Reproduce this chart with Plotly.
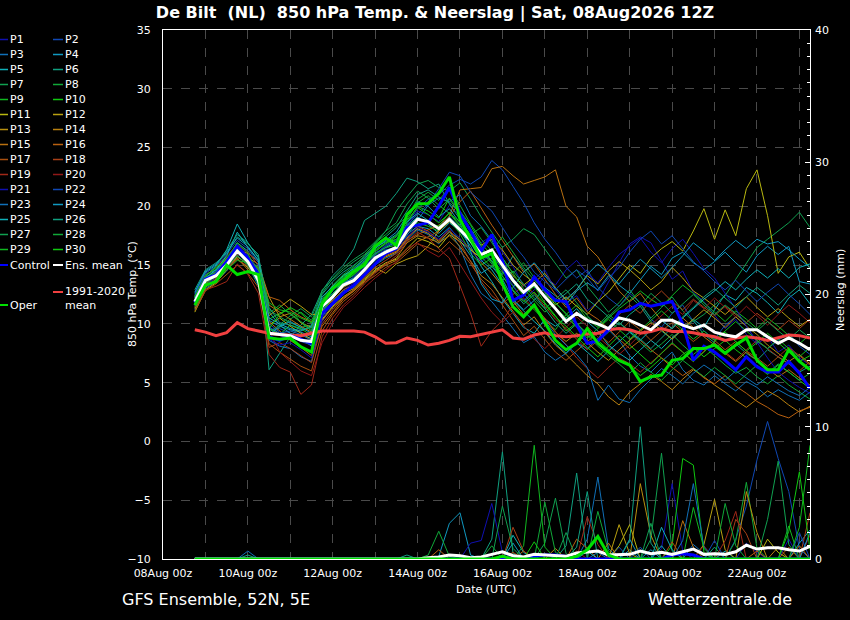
import pandas as pd
import plotly.graph_objects as go

# ---------------- data ----------------
times = pd.date_range("2026-08-08 18:00", periods=59, freq="6h")
x_tick_dates = ["2026-08-08", "2026-08-10", "2026-08-12", "2026-08-14",
                "2026-08-16", "2026-08-18", "2026-08-20", "2026-08-22"]
x_tick_labels = ["08Aug 00z", "10Aug 00z", "12Aug 00z", "14Aug 00z",
                 "16Aug 00z", "18Aug 00z", "20Aug 00z", "22Aug 00z"]
member_names = ["P%d" % k for k in range(1, 31)]
member_colors = ["#1010b0", "#1048b4", "#1070b8", "#1098c0", "#10b0b8",
                 "#10a080", "#10a050", "#10a838", "#10b820", "#10c810",
                 "#b8b810", "#b8a010", "#b89010", "#b88010", "#b87010",
                 "#b86010", "#a85010", "#a84018", "#a02818", "#901818",
                 "#1010b0", "#1048b4", "#1070b8", "#1098c0", "#10b0b8",
                 "#10a080", "#10a050", "#10a838", "#10b820", "#10c810"]

temp_control = [11.8, 13.8, 14.2, 15.3, 16.6, 15.6, 14.2,
                8.9, 8.6, 9.0, 8.7, 8.35,
                10.9, 11.75, 12.6, 13.3, 14.2, 15.15, 16.0, 16.4,
                18.2, 18.4, 18.6, 20.0, 21.6, 19.4, 17.9, 16.2,
                17.6, 15.4, 12.0, 12.45, 14.0, 12.9, 12.0, 11.9, 9.9, 8.35,
                8.55, 9.5, 11.0, 11.2, 11.75, 11.5, 11.7, 11.9, 10.0, 6.9, 8.1,
                7.6, 6.9, 6.1, 7.2, 6.35, 5.9, 5.9, 6.8, 5.8, 4.5]
temp_mean = [11.9, 13.7, 14.1, 15.0, 16.2, 15.3, 13.7,
             9.2, 9.1, 9.0, 8.6, 8.5,
             11.5, 12.3, 13.3, 13.7, 14.6, 15.6, 16.1, 16.5,
             17.9, 18.9, 18.7, 18.1, 18.9, 18.0, 17.1, 15.9,
             16.3, 15.0, 13.7, 12.7, 13.4, 12.3, 11.3, 10.2, 10.9, 10.3,
             10.0, 9.6, 10.5, 10.3, 9.9, 9.5, 10.3, 10.3, 9.9, 9.6, 9.9,
             9.3, 9.05, 8.9, 9.5, 9.5, 8.9, 8.35, 8.8, 8.35, 7.8]
temp_oper = [11.6, 13.3, 13.6, 15.0, 14.2, 14.45, 14.2,
             8.8, 8.7, 8.8, 8.05, 7.6,
             11.7, 13.0, 13.7, 14.45, 15.0, 16.6, 17.3, 16.7,
             19.3, 20.2, 20.25, 21.1, 22.5, 18.9, 17.2, 15.6,
             16.0, 13.45, 11.45, 10.6, 11.6, 10.05, 8.6, 7.8, 8.35, 9.6,
             8.35, 7.6, 6.9, 6.5, 5.1, 5.5, 5.65, 6.9, 7.05, 7.9, 7.9,
             8.2, 7.5, 8.2, 8.8, 6.9, 6.1, 6.1, 7.8, 6.8, 6.1]
temp_clim = [9.5, 9.3, 9.0, 9.25, 10.1, 9.6, 9.4, 9.2, 9.1, 9.05,
             9.0, 9.2, 9.4, 9.4, 9.4, 9.4, 9.3, 8.9, 8.35, 8.4,
             8.8, 8.6, 8.2, 8.35, 8.6, 8.95, 8.9, 9.1, 9.3, 9.5,
             8.8, 8.7, 9.05, 9.25, 9.0, 8.9, 9.0, 9.15, 9.2, 9.5,
             9.6, 9.5, 9.2, 9.35, 9.6, 9.35, 9.35, 9.25, 9.05, 8.9,
             8.6, 8.8, 8.9, 8.8, 8.6, 8.8, 9.05, 9.0, 8.8]

temp_p01 = [11.5, 13.2, 13.9, 15.1, 16.8, 15.9, 14.6, 9.8, 9.0, 8.7, 8.1, 7.6,
            10.2, 11.6, 12.9, 13.5, 14.9, 15.8, 16.4, 16.9, 18.2, 19.6, 19.3, 18.7, 20.1, 19.2, 17.8, 16.9,
            17.5, 16.1, 14.9, 13.2, 13.8, 14.6, 12.9, 11.8, 12.4, 11.1,
            11.9, 13.6, 15.2, 16.8, 17.4, 16.9, 15.3, 13.8, 14.5, 12.7, 11.9,
            10.8, 9.6, 10.4, 9.1, 8.3, 8.9, 7.6, 8.2, 7.1, 6.5]
temp_p02 = [12.0, 13.9, 14.5, 15.4, 16.5, 15.8, 14.1, 9.5, 9.6, 9.2, 9.0, 8.8,
            11.2, 12.1, 13.4, 14.0, 14.8, 15.9, 16.7, 17.2, 18.5, 19.8, 20.6, 21.0, 21.8, 22.3, 21.9, 22.5,
            23.9, 23.1, 21.7, 20.3, 18.6, 17.2, 16.1, 14.8, 13.9, 14.6,
            13.1, 12.2, 11.5, 12.6, 11.8, 10.4, 9.7, 10.9, 11.6, 10.2, 9.4,
            8.7, 9.9, 10.6, 9.8, 8.5, 7.9, 8.6, 9.2, 8.1, 7.4]
temp_p03 = [11.2, 13.0, 13.6, 14.5, 15.8, 15.0, 13.2, 8.6, 8.1, 7.9, 7.2, 6.8,
            10.6, 11.9, 12.8, 13.1, 14.1, 15.0, 15.6, 16.0, 17.1, 18.0, 17.6, 16.8, 17.9, 16.5, 14.2, 12.6,
            11.9, 10.8, 9.6, 8.4, 8.9, 7.6, 6.9, 7.5, 8.4, 7.9,
            8.8, 9.5, 8.6, 7.3, 6.4, 5.9, 6.8, 7.6, 6.1, 5.2, 4.8,
            5.6, 4.9, 4.3, 5.1, 4.6, 3.8, 4.4, 3.9, 3.5, 4.2]
temp_p04 = [12.3, 14.2, 14.6, 15.5, 16.9, 16.2, 14.9, 10.3, 9.8, 9.5, 9.3, 8.9,
            11.8, 12.6, 13.5, 13.9, 14.6, 15.4, 16.2, 16.6, 17.6, 18.3, 18.1, 17.4, 18.2, 17.1, 15.8, 14.3,
            14.9, 13.8, 12.1, 11.2, 12.0, 13.1, 12.4, 11.6, 12.8, 13.5,
            12.9, 14.1, 13.3, 12.6, 13.8, 14.9, 14.2, 15.6, 16.1, 15.2, 14.6,
            15.3, 16.1, 15.2, 14.4, 15.8, 16.6, 15.9, 16.6, 13.6, 13.4]
temp_p05 = [12.6, 14.4, 15.0, 16.3, 18.5, 16.9, 15.6, 11.0, 9.9, 9.2, 8.8, 8.1,
            11.0, 12.4, 13.8, 14.5, 15.3, 16.0, 16.5, 17.0, 18.3, 19.1, 18.5, 17.7, 18.6, 17.9, 16.6, 14.9,
            13.6, 12.1, 10.9, 9.7, 9.2, 10.4, 9.8, 10.5, 11.3, 10.2,
            9.4, 8.2, 7.5, 6.9, 7.8, 8.6, 7.9, 8.8, 9.6, 10.4, 9.7,
            11.2, 12.5, 12.0, 13.1, 12.6, 11.8, 10.9, 12.2, 12.9, 11.7]
temp_p06 = [12.9, 14.6, 15.2, 16.0, 17.4, 16.8, 15.9, 6.1, 7.5, 8.9, 9.9, 10.8,
            12.8, 14.1, 15.0, 16.4, 18.8, 19.4, 20.0, 21.1, 22.4, 22.1, 21.5, 21.9, 20.2, 18.9, 17.5, 16.1,
            15.4, 14.2, 15.8, 14.6, 13.1, 12.5, 11.9, 12.6, 13.4, 12.1,
            11.4, 10.6, 9.9, 10.8, 11.5, 10.2, 9.4, 8.7, 9.5, 10.3, 9.1,
            8.4, 7.6, 8.3, 7.5, 6.9, 7.8, 7.2, 6.6, 5.9, 6.4]
temp_p07 = [11.8, 13.6, 14.3, 15.2, 16.0, 15.5, 14.8, 11.2, 10.6, 10.1, 9.7, 9.9,
            12.9, 13.8, 14.6, 15.3, 15.9, 16.8, 17.9, 19.6, 20.8, 21.9, 22.2, 21.6, 21.3, 22.0, 20.6, 19.1,
            17.8, 16.5, 17.2, 18.1, 17.6, 16.4, 15.1, 13.9, 14.6, 13.2,
            12.1, 11.0, 11.8, 12.9, 11.7, 10.5, 11.4, 12.3, 11.1, 10.2, 10.8,
            11.6, 12.4, 13.8, 15.1, 16.5, 17.2, 17.9, 18.6, 19.5, 18.2]
temp_p08 = [12.2, 14.0, 14.4, 15.6, 16.4, 15.4, 13.3, 9.0, 9.7, 10.4, 11.0, 10.3,
            12.1, 13.3, 14.2, 14.4, 15.3, 16.2, 16.8, 17.4, 18.9, 20.3, 20.9, 20.1, 19.4, 18.3, 17.6, 18.2,
            16.9, 15.6, 14.3, 15.2, 13.9, 12.6, 11.4, 10.5, 9.8, 10.6,
            9.9, 10.8, 10.1, 9.3, 8.4, 7.6, 8.3, 9.1, 8.2, 7.4, 8.1,
            7.3, 6.5, 5.8, 6.3, 5.5, 4.9, 5.6, 4.8, 4.2, 3.6]
temp_p09 = [11.4, 13.4, 14.2, 15.3, 16.1, 15.0, 14.4, 10.4, 10.9, 11.3, 10.1, 9.4,
            11.9, 13.0, 14.0, 14.8, 15.5, 16.6, 17.3, 17.0, 18.0, 18.6, 18.3, 17.9, 18.8, 17.7, 16.0, 15.0,
            15.6, 14.4, 13.1, 12.0, 11.2, 10.3, 9.5, 10.8, 11.6, 10.4,
            9.7, 10.5, 11.3, 12.0, 12.8, 12.1, 11.5, 12.4, 13.3, 12.6, 11.8,
            11.0, 10.2, 11.1, 10.4, 9.6, 10.5, 9.8, 9.0, 8.3, 9.1]
temp_p10 = [12.1, 13.8, 14.7, 15.7, 16.6, 15.6, 14.0, 9.6, 9.1, 9.9, 9.6, 9.0,
            11.4, 12.5, 13.6, 14.2, 15.1, 15.9, 16.5, 16.7, 18.6, 20.0, 19.6, 19.0, 20.7, 19.6, 18.4, 16.8,
            15.9, 14.7, 13.5, 12.4, 13.2, 11.8, 10.7, 9.4, 10.1, 9.0,
            8.6, 7.8, 7.0, 6.4, 5.6, 6.3, 7.1, 6.5, 7.4, 8.0, 7.2,
            7.9, 8.6, 7.8, 7.1, 6.4, 5.7, 6.5, 5.9, 5.2, 4.5]
temp_p11 = [11.0, 12.9, 13.5, 14.6, 15.5, 14.8, 13.6, 9.9, 10.5, 9.8, 9.2, 8.7,
            10.4, 11.5, 12.3, 12.9, 13.8, 14.6, 15.2, 15.5, 16.4, 17.3, 17.0, 16.5, 17.6, 17.0, 16.3, 15.6,
            16.0, 15.2, 14.1, 13.3, 14.0, 12.8, 11.6, 12.3, 11.5, 10.8,
            11.9, 12.7, 13.8, 15.0, 14.3, 15.6, 16.4, 17.0, 16.2, 17.9, 19.8,
            17.2, 19.7, 17.5, 21.5, 23.1, 19.2, 14.3, 15.7, 16.1, 14.7]
temp_p12 = [11.3, 13.1, 13.8, 14.9, 15.7, 15.1, 14.3, 10.7, 11.4, 12.1, 11.5, 10.8,
            10.8, 11.7, 12.6, 13.0, 13.9, 14.8, 14.3, 15.1, 15.5, 15.8, 16.6, 17.9, 18.7, 18.1, 17.4, 16.7,
            17.2, 16.3, 15.0, 14.2, 13.5, 14.3, 13.1, 12.0, 12.9, 14.1,
            13.4, 14.5, 15.3, 14.6, 13.8, 12.9, 13.6, 14.8, 13.9, 12.8, 12.2,
            11.5, 10.8, 11.6, 12.3, 11.4, 10.6, 11.3, 10.5, 9.8, 10.4]
temp_p13 = [11.7, 13.3, 14.1, 15.1, 15.9, 15.6, 15.1, 12.3, 10.6, 10.9, 10.1, 9.7,
            10.9, 12.2, 13.1, 13.6, 14.4, 15.1, 15.7, 16.1, 17.3, 18.1, 17.7, 17.0, 17.8, 17.2, 16.4, 15.2,
            14.3, 13.2, 11.9, 10.8, 11.6, 10.4, 9.3, 8.5, 9.2, 8.4,
            7.6, 6.9, 7.8, 8.6, 9.4, 10.1, 9.5, 8.7, 9.6, 10.4, 11.2,
            10.5, 9.7, 10.6, 9.8, 9.1, 8.2, 7.5, 6.8, 7.4, 6.6]
temp_p14 = [12.0, 13.7, 14.4, 15.3, 16.3, 16.0, 15.3, 11.6, 11.0, 10.4, 9.8, 9.3,
            10.3, 11.4, 12.2, 12.8, 13.7, 14.5, 15.1, 15.6, 16.9, 17.5, 17.3, 16.9, 17.5, 16.6, 15.4, 14.1,
            13.4, 12.2, 11.0, 9.9, 10.6, 9.3, 8.2, 7.4, 6.5, 5.6,
            4.9, 3.8, 3.1, 4.2, 4.9, 5.7, 5.1, 4.4, 5.3, 6.1, 5.5,
            4.8, 4.2, 3.5, 2.9, 3.6, 4.3, 3.8, 3.1, 2.5, 3.0]
temp_p15 = [11.6, 13.5, 14.0, 14.8, 15.6, 14.6, 13.9, 10.2, 9.4, 8.6, 8.0, 7.3,
            9.8, 10.9, 12.1, 12.8, 13.6, 14.4, 15.0, 15.4, 16.2, 17.0, 17.4, 17.9, 19.2, 21.4, 21.5, 21.6,
            23.2, 23.4, 22.6, 21.9, 22.2, 22.5, 23.1, 20.0, 19.1, 16.6,
            15.7, 14.2, 12.8, 11.9, 12.6, 11.4, 10.3, 9.6, 10.5, 9.7, 8.9,
            8.2, 7.5, 6.8, 7.6, 6.9, 6.2, 5.5, 6.1, 5.4, 4.8]
temp_p16 = [11.9, 13.6, 14.2, 15.6, 16.0, 15.5, 14.7, 12.3, 12.0, 11.2, 10.6, 10.2,
            11.1, 12.0, 12.9, 13.3, 14.2, 15.2, 15.8, 16.2, 17.1, 17.6, 18.0, 18.4, 19.1, 20.4, 21.3, 19.8,
            18.4, 17.1, 15.7, 14.4, 15.1, 13.8, 12.5, 11.4, 12.2, 11.0,
            10.4, 9.6, 8.7, 7.9, 8.6, 7.8, 7.1, 6.3, 5.6, 6.2, 5.4,
            4.9, 5.6, 4.7, 4.1, 3.4, 2.9, 2.3, 2.0, 2.6, 2.9]
temp_p17 = [11.1, 12.8, 13.4, 14.2, 15.0, 14.3, 13.1, 8.3, 7.6, 7.0, 6.4, 6.0,
            9.4, 10.8, 11.9, 12.6, 13.5, 14.1, 14.8, 15.2, 16.0, 16.8, 16.5, 16.1, 17.0, 16.2, 15.1, 13.8,
            12.9, 11.6, 10.2, 9.0, 9.8, 8.7, 7.6, 6.9, 7.7, 8.5,
            9.2, 8.4, 9.3, 10.2, 9.5, 8.6, 9.4, 10.1, 9.3, 8.5, 9.2,
            8.6, 7.8, 8.5, 7.7, 7.1, 6.4, 7.2, 6.6, 6.0, 6.8]
temp_p18 = [11.8, 13.4, 13.9, 14.7, 15.5, 14.9, 13.7, 8.0, 8.4, 7.9, 7.3, 6.7,
            10.0, 11.2, 12.2, 12.9, 14.0, 14.8, 15.4, 16.0, 17.2, 18.3, 17.9, 17.1, 18.0, 16.9, 15.3, 13.6,
            12.4, 11.7, 12.5, 13.3, 12.6, 11.5, 10.4, 9.6, 8.7, 7.8,
            8.6, 9.7, 10.8, 11.6, 10.9, 12.0, 12.8, 11.9, 11.2, 12.1, 11.4,
            10.7, 11.5, 10.8, 10.1, 10.9, 10.2, 9.5, 10.3, 9.6, 10.4]
temp_p19 = [11.4, 12.9, 13.2, 13.6, 15.1, 14.2, 12.6, 7.4, 6.3, 5.9, 4.0, 4.8,
            8.9, 10.5, 11.6, 12.4, 13.4, 14.3, 15.1, 15.8, 17.0, 17.8, 17.3, 16.4, 15.6, 13.2, 10.9, 8.1,
            9.4, 10.3, 11.6, 12.2, 11.3, 10.5, 9.4, 8.2, 7.1, 6.2,
            5.4, 6.3, 7.1, 6.6, 5.9, 6.7, 7.5, 8.3, 7.6, 6.8, 7.7,
            8.4, 7.6, 6.9, 7.8, 8.6, 7.9, 7.2, 8.0, 7.3, 6.5]
temp_p20 = [12.4, 14.1, 14.8, 15.8, 16.7, 16.1, 15.0, 9.4, 7.6, 6.8, 6.0, 5.6,
            8.4, 10.1, 11.4, 12.2, 13.1, 13.9, 14.6, 15.3, 16.4, 16.9, 16.2, 15.7, 16.5, 15.1, 13.6, 12.2,
            11.0, 10.1, 11.0, 9.8, 8.7, 7.9, 8.8, 9.7, 10.6, 9.8,
            8.9, 8.1, 7.4, 8.2, 9.1, 9.9, 10.7, 11.5, 10.8, 12.0, 11.3,
            12.2, 11.4, 10.6, 11.5, 10.7, 9.9, 10.8, 11.6, 10.9, 10.1]
temp_p21 = [11.6, 13.3, 14.0, 14.9, 16.0, 15.2, 13.5, 8.7, 8.2, 8.4, 7.8, 7.1,
            10.5, 11.7, 12.7, 13.3, 14.2, 15.2, 15.9, 16.3, 17.4, 18.2, 17.8, 17.2, 18.1, 17.3, 16.2, 15.3,
            15.9, 14.6, 13.2, 12.0, 12.9, 14.1, 13.3, 14.6, 15.4, 14.3,
            13.5, 14.8, 15.9, 16.6, 17.3, 16.1, 15.2, 16.4, 17.2, 16.0, 14.7,
            13.9, 12.6, 11.3, 9.8, 8.4, 7.1, 5.9, 5.2, 4.6, 4.1]
temp_p22 = [12.5, 14.3, 14.9, 15.9, 17.1, 16.4, 15.2, 10.0, 9.3, 8.9, 8.5, 8.2,
            11.6, 12.8, 13.7, 14.1, 15.0, 16.0, 16.6, 17.1, 18.4, 19.3, 20.2, 21.5, 22.9, 22.6, 21.2, 20.4,
            19.6, 18.2, 16.8, 15.7, 14.4, 13.6, 12.9, 13.8, 14.6, 13.9,
            12.8, 13.9, 14.8, 16.1, 17.2, 17.9, 16.8, 17.5, 16.4, 15.3, 14.5,
            13.6, 12.9, 13.7, 12.8, 11.9, 12.7, 13.4, 12.5, 11.7, 10.8]
temp_p23 = [11.9, 13.8, 14.3, 15.2, 16.4, 15.7, 14.5, 9.7, 9.2, 9.4, 9.1, 8.6,
            11.3, 12.4, 13.2, 13.8, 14.7, 15.7, 16.3, 16.5, 17.5, 18.8, 20.1, 20.7, 20.4, 21.0, 19.2, 18.3,
            17.1, 15.4, 13.9, 12.6, 11.4, 10.2, 9.1, 8.2, 7.4, 6.3,
            3.5, 4.8, 3.6, 3.3, 4.4, 5.3, 6.2, 5.6, 4.9, 5.8, 6.5,
            5.9, 5.2, 6.0, 5.4, 4.8, 5.5, 4.9, 4.3, 3.9, 4.6]
temp_p24 = [12.7, 14.5, 15.1, 16.1, 17.3, 16.6, 15.4, 9.1, 9.8, 10.2, 9.7, 9.2,
            11.9, 12.9, 13.9, 14.6, 15.4, 16.4, 17.1, 17.8, 19.2, 20.4, 20.0, 19.1, 19.8, 18.6, 16.2, 13.4,
            12.1, 11.8, 13.1, 14.4, 15.2, 14.1, 13.0, 12.1, 12.9, 14.2,
            15.1, 14.3, 13.4, 14.5, 15.5, 14.7, 13.9, 14.8, 15.8, 16.9, 16.2,
            15.4, 16.3, 17.1, 16.4, 17.2, 16.8, 17.0, 16.3, 15.5, 14.8]
temp_p25 = [12.2, 13.9, 14.6, 15.8, 17.8, 16.5, 15.4, 10.5, 10.0, 9.6, 9.4, 9.8,
            12.3, 13.2, 14.1, 14.7, 15.6, 16.5, 17.0, 17.6, 18.7, 19.4, 18.8, 18.0, 19.1, 18.2, 16.9, 15.4,
            14.6, 13.3, 12.0, 11.1, 10.2, 9.4, 8.3, 7.5, 8.4, 7.6,
            6.8, 7.7, 8.5, 9.3, 8.6, 9.5, 10.3, 9.6, 10.5, 11.3, 12.1,
            12.8, 13.6, 12.9, 13.8, 14.6, 13.9, 14.7, 13.9, 14.8, 15.1]
temp_p26 = [12.4, 14.0, 14.9, 16.2, 17.6, 16.9, 15.7, 11.4, 10.1, 9.9, 9.5, 9.7,
            12.5, 13.6, 14.4, 15.0, 15.7, 16.7, 17.4, 18.2, 19.6, 21.0, 21.4, 20.8, 20.3, 19.5, 18.1, 16.6,
            15.3, 14.0, 12.8, 11.7, 12.5, 11.3, 10.1, 9.2, 10.0, 9.2,
            8.5, 9.3, 10.1, 9.4, 8.7, 7.9, 8.8, 9.7, 10.6, 11.4, 12.3,
            13.0, 12.2, 11.4, 12.3, 13.1, 12.4, 11.6, 12.5, 13.3, 12.6]
temp_p27 = [11.7, 13.5, 14.0, 14.8, 15.8, 15.0, 13.4, 9.3, 9.9, 10.7, 11.3, 10.6,
            12.6, 13.9, 14.8, 15.5, 16.1, 17.0, 17.9, 18.6, 20.2, 21.3, 20.7, 19.8, 20.6, 19.4, 17.9, 16.2,
            15.1, 13.7, 14.5, 13.4, 12.2, 11.3, 12.1, 12.9, 11.8, 10.7,
            9.8, 10.6, 11.5, 12.4, 11.5, 12.6, 11.8, 10.9, 11.7, 12.5, 11.6,
            10.8, 11.6, 10.9, 10.1, 9.4, 10.2, 9.4, 8.7, 9.5, 8.8]
temp_p28 = [12.0, 13.7, 14.4, 15.2, 16.3, 15.5, 14.6, 10.9, 11.6, 10.8, 10.2, 9.5,
            12.0, 13.1, 14.2, 14.9, 15.8, 16.9, 17.6, 18.4, 19.1, 20.6, 21.2, 20.5, 21.6, 20.1, 18.5, 17.2,
            16.2, 17.4, 16.1, 14.8, 13.7, 12.9, 11.8, 10.9, 9.9, 9.0,
            8.1, 7.3, 6.6, 5.8, 6.7, 5.9, 5.2, 6.1, 6.9, 6.2, 5.5,
            6.3, 5.6, 4.9, 5.7, 6.5, 5.8, 6.6, 5.9, 5.2, 5.8]
temp_p29 = [11.5, 13.2, 13.7, 14.6, 15.4, 15.2, 14.8, 11.8, 11.2, 11.0, 10.5, 10.1,
            11.0, 12.3, 13.5, 14.2, 15.0, 16.1, 16.9, 17.2, 18.1, 19.0, 18.6, 18.3, 19.5, 18.4, 17.0, 15.7,
            14.8, 15.6, 14.3, 13.0, 12.0, 11.0, 11.8, 10.8, 9.7, 8.8,
            9.6, 10.4, 9.5, 8.7, 9.5, 10.3, 11.1, 10.3, 9.5, 8.7, 9.4,
            8.6, 9.4, 10.2, 9.4, 8.6, 7.9, 8.7, 7.9, 7.2, 8.0]
temp_p30 = [12.3, 14.1, 14.8, 15.5, 16.9, 16.0, 14.2, 9.6, 10.8, 11.4, 10.9, 10.1,
            11.7, 13.0, 14.0, 14.6, 15.2, 16.3, 16.9, 17.5, 18.8, 19.9, 19.3, 18.6, 19.4, 18.7, 17.6, 16.4,
            15.2, 14.1, 12.9, 11.9, 12.7, 11.7, 10.6, 9.8, 8.9, 8.0,
            7.2, 8.1, 9.0, 8.2, 7.4, 6.6, 7.5, 8.4, 7.6, 6.8, 7.6,
            8.5, 9.3, 8.5, 7.7, 8.4, 9.2, 8.4, 7.6, 6.8, 7.3]

# 6-hourly precipitation (mm), right axis
rain_p01 = [0, 0, 0, 0, 0, 0, 0, 0, 0, 0,
            0, 0, 0, 0, 0, 0, 0, 0, 0, 0,
            0, 0, 0, 0, 0, 0, 0, 0, 0, 0,
            0.3, 0, 0, 0, 0, 0, 0, 0, 0, 0,
            0, 0, 0, 0, 0.8, 5.7, 0.6, 0, 0, 0,
            0, 0, 1.2, 0.5, 0, 0, 0, 0, 0]
rain_p02 = [0, 0, 0, 0, 0, 0, 0, 0, 0, 0,
            0, 0, 0, 0, 0, 0, 0, 0, 0, 0,
            0, 0, 0, 0, 0, 0, 0, 0, 0, 0,
            0, 0, 0, 0.4, 0, 0, 0, 0, 0, 0,
            0.9, 0, 0, 0, 0, 0, 0, 0, 0, 0,
            0, 1.5, 4.0, 7.5, 10.4, 7.6, 5.1, 0.8, 0]
rain_p03 = [0, 0, 0, 0, 0, 0.6, 0, 0, 0, 0,
            0, 0, 0, 0, 0, 0, 0, 0, 0, 0,
            0, 0, 0, 0, 0, 0, 0, 0, 0, 0,
            0, 0, 0, 0, 0, 0, 0, 1.5, 6.2, 0.8,
            0, 0, 0, 0, 0, 0, 0, 1.1, 0.4, 0,
            0, 0, 0, 0, 0, 0, 0, 0, 0]
rain_p04 = [0, 0, 0, 0, 0, 0, 0, 0, 0, 0,
            0, 0, 0, 0, 0, 0, 0, 0, 0, 0,
            0, 0, 0, 0.2, 2.7, 3.5, 0.3, 0, 0, 0,
            0, 0, 0, 0, 0, 0, 0, 0, 0, 0,
            0, 0.7, 0, 0, 0, 0, 0, 0, 0, 0,
            0, 0, 0, 0, 0, 0, 0, 1.2, 2.2]
rain_p05 = [0, 0, 0, 0, 0, 0, 0, 0, 0, 0,
            0, 0, 0, 0, 0, 0, 0, 0, 0, 0,
            0, 0, 0, 0, 0, 0, 0, 0, 0, 0,
            1.8, 0.5, 0, 0, 0, 0, 0, 0, 0, 0,
            0, 0, 0, 0, 1.0, 0, 0, 0, 0, 0,
            0.6, 0, 0, 0, 0, 0, 0, 0, 0]
rain_p06 = [0, 0, 0, 0, 0, 0, 0, 0, 0, 0,
            0, 0, 0, 0, 0, 0, 0, 0, 0, 0,
            0, 0, 0, 0, 0, 0, 0, 0, 1.5, 8.1,
            0.4, 0, 0, 0, 0, 1.0, 6.5, 0, 0, 0,
            0, 0, 0, 0, 0, 0, 0, 0, 0, 0.9,
            0, 0, 0, 0, 0, 0, 0, 0, 0]
rain_p07 = [0, 0, 0, 0, 0, 0, 0, 0, 0, 0,
            0, 0, 0, 0, 0, 0, 0, 0, 0, 0,
            0, 0, 0, 0, 0, 0, 0, 0, 0, 0,
            0, 0, 0, 1.2, 4.6, 0.4, 0, 0, 0, 0,
            0, 0, 0, 1.5, 8.0, 0.6, 0, 0, 0, 0,
            0, 0, 0, 0, 0, 0, 0, 0, 0]
rain_p08 = [0, 0, 0, 0, 0, 0, 0, 0, 0, 0,
            0, 0, 0, 0, 0, 0, 0, 0, 0, 0,
            0, 0, 0.3, 2.1, 0.2, 0, 0, 0, 1.0, 0,
            0, 0, 0, 0, 0, 0, 0, 0, 3.6, 0.6,
            0, 0, 0, 0, 0, 0, 0, 0, 0, 0,
            0, 1.4, 5.8, 0.8, 0, 0, 0, 0, 0]
rain_p09 = [0, 0, 0, 0, 0, 0, 0, 0, 0, 0,
            0, 0, 0, 0, 0, 0, 0, 0, 0, 0,
            0, 0, 0, 0, 0, 0, 0, 0, 0, 0,
            0, 1.0, 8.6, 0.9, 0, 0, 0, 0, 0, 0,
            0, 0, 0, 0, 0, 0, 0, 0, 0, 0,
            0, 0, 0, 0, 0, 0, 2.5, 0, 0]
rain_p10 = [0, 0, 0, 0, 0, 0, 0, 0, 0, 0,
            0, 0, 0, 0, 0, 0, 0, 0, 0, 0,
            0, 0, 0, 0, 0, 0, 0, 0, 0, 0,
            0, 0, 0, 0, 0, 0, 0, 0, 0, 0,
            0, 0, 0, 0, 0, 1.0, 7.6, 7.1, 0.5, 0,
            0, 0, 0, 0, 0, 0, 0, 0, 0]
rain_p11 = [0, 0, 0, 0, 0, 0, 0, 0, 0, 0,
            0, 0, 0, 0, 0, 0, 0, 0, 0, 0,
            0, 0, 0, 0, 0, 0, 0, 0, 0, 0,
            0, 0, 0, 0, 0, 0, 0, 0, 0, 0,
            1.0, 2.6, 0, 0, 0, 0, 0, 0, 0, 0,
            0, 0, 0, 0, 1.5, 0.5, 0, 0, 0]
rain_p12 = [0, 0, 0, 0, 0, 0, 0, 0, 0, 0,
            0, 0, 0, 0, 0, 0, 0, 0, 0, 0,
            0, 0, 0, 0, 0, 0, 0, 0, 0, 0,
            0, 0, 0, 0, 0, 0, 0, 0, 0, 0,
            2.6, 0.4, 0, 0, 0, 0, 0, 0, 1.1, 4.5,
            0.7, 0, 0, 0, 0, 0, 0, 0, 0]
rain_p13 = [0, 0, 0, 0, 0, 0, 0, 0, 0, 0,
            0, 0, 0, 0, 0, 0, 0, 0, 0, 0,
            0, 0, 0, 0, 0, 0, 0, 0, 0, 0,
            0, 0, 0, 0, 0, 0, 0, 0, 0, 0,
            0, 0, 5.7, 1.8, 0, 0, 0, 0, 0, 0,
            0, 0, 5.1, 2.0, 0, 0, 0, 0, 0]
rain_p14 = [0, 0, 0, 0, 0, 0, 0, 0, 0, 0,
            0, 0, 0, 0, 0, 0, 0, 0, 0, 0,
            0, 0, 0, 0, 0, 0, 0, 0, 0, 0,
            0, 0, 0, 0, 0.8, 0, 0, 0, 0, 1.2,
            0, 0, 0, 0, 0, 0, 0, 0, 0, 0,
            0, 0, 0, 0, 0, 0.9, 0, 0, 0]
rain_p15 = [0, 0, 0, 0, 0, 0, 0, 0, 0, 0,
            0, 0, 0, 0, 0, 0, 0, 0, 0, 0,
            0, 0, 0, 0, 0, 0, 0, 0, 0, 0,
            0, 0.6, 0, 0, 0, 0, 0, 0, 0, 0,
            0, 0, 0, 0, 0, 0, 2.9, 0.9, 0, 0,
            0, 0, 0, 0, 0, 0, 0, 1.0, 0]
rain_p16 = [0, 0, 0, 0, 0, 0, 0, 0, 0, 0,
            0, 0, 0, 0, 0, 0, 0, 0, 0, 0,
            0, 0, 0, 0.7, 0, 0, 0, 0, 0, 0,
            0, 0, 0, 0, 0, 0, 1.5, 0.8, 0, 0,
            0, 0, 0, 0, 0, 0, 0, 0, 0, 0,
            0, 0, 0, 0.6, 0, 0, 0, 0, 0]
rain_p17 = [0, 0, 0, 0, 0, 0, 0, 0, 0, 0,
            0, 0, 0, 0, 0, 0, 0, 0, 0, 0,
            0, 0, 0, 0, 0, 0, 0, 0, 0, 0,
            0.5, 0, 0, 0, 0, 0, 0, 0, 0, 0,
            0, 0, 0, 0, 0, 1.3, 0, 0, 0, 0,
            0, 0, 0, 0, 0, 0, 0.9, 0, 0]
rain_p18 = [0, 0, 0, 0, 0, 0, 0, 0, 0, 0,
            0, 0, 0, 0, 0, 0, 0, 0, 0, 0,
            0, 0, 0, 0, 0, 0, 0, 0, 0, 0,
            2.4, 0.6, 0, 0, 0, 0, 0, 0, 0, 0,
            0, 0, 0, 0, 0, 0, 0, 0, 0, 0,
            0, 3.0, 1.9, 0, 0, 0, 0, 0, 3.5]
rain_p19 = [0, 0, 0, 0, 0, 0, 0, 0, 0, 0,
            0, 0, 0, 0, 0, 0, 0, 0, 0, 0,
            0, 0, 0, 0, 0, 0, 0, 0, 0, 0,
            0, 0, 0, 0, 0, 0, 0, 3.2, 1.1, 0,
            0, 0, 0, 0, 0, 0, 0, 0, 0, 0,
            1.4, 3.6, 0, 0, 0, 0, 0, 0, 0]
rain_p20 = [0, 0, 0, 0, 0, 0, 0, 0, 0, 0,
            0, 0, 0, 0, 0, 0, 0, 0, 0, 0,
            0, 0, 0, 0, 0, 0, 0, 0, 0, 0,
            0, 0, 0, 0, 0, 0, 0.6, 0, 0, 0,
            0, 0, 0, 0, 0, 0, 0, 0, 1.0, 0,
            0, 0, 0, 0, 0, 0, 0, 0, 1.8]
rain_p21 = [0, 0, 0, 0, 0, 0, 0, 0, 0, 0,
            0, 0, 0, 0, 0, 0, 0, 0, 0, 0,
            0, 0, 0, 0, 0, 0, 1.2, 1.4, 4.2, 0.5,
            0, 0, 0, 0, 0, 0, 0, 0, 0, 0,
            0, 0, 0, 0, 0, 0, 0, 0, 0, 0,
            0, 0, 0, 0, 0, 0, 1.5, 0, 0]
rain_p22 = [0, 0, 0, 0, 0, 0, 0, 0, 0, 0,
            0, 0, 0, 0, 0, 0, 0, 0, 0, 0,
            0, 0, 0, 0, 0, 0, 0, 0, 0, 0,
            0, 0, 0, 0, 0, 0, 0, 0, 0, 0,
            0, 0, 0.9, 0, 0, 0, 0, 0, 0, 1.4,
            0, 0, 0, 0, 0, 0, 0, 2.0, 0]
rain_p23 = [0, 0, 0, 0, 0, 0, 0, 0, 0, 0,
            0, 0, 0, 0, 0, 0, 0, 0, 0, 0,
            0, 0, 0, 0, 0, 0, 0, 0, 0, 0,
            0, 0, 0, 0, 0, 0, 0, 0, 0.5, 0,
            0, 0, 0, 0, 0, 0, 1.4, 5.7, 0.9, 0,
            0, 0, 0, 0, 0, 0, 0, 0, 0]
rain_p24 = [0, 0, 0, 0, 0, 0, 0, 0, 0, 0,
            0, 0, 0, 0, 0, 0, 0, 0, 0, 0,
            0, 0, 0, 0, 0, 0, 0, 0, 0, 0,
            1.2, 0, 0, 0, 0, 0, 0, 0, 0, 0,
            0, 1.5, 0, 0.7, 0, 0, 0, 0, 0, 0,
            0, 0, 0, 0, 0, 0, 0, 0, 2.0]
rain_p25 = [0, 0, 0, 0, 0, 0, 0, 0, 0, 0,
            0, 0, 0, 0, 0, 0, 0, 0, 0, 0,
            0, 0, 0, 0, 0, 0, 0, 0, 0, 0,
            0, 0, 0, 0, 0, 0, 0, 0.6, 0, 0,
            0, 0, 0, 0, 2.4, 0.7, 0, 0, 0, 0,
            0, 0, 0, 0, 0, 0, 0, 0, 0]
rain_p26 = [0, 0, 0, 0, 0, 0.3, 0, 0, 0, 0,
            0, 0, 0, 0, 0, 0, 0, 0, 0, 0,
            0.3, 0, 0, 0, 0, 0, 0, 0, 0, 0,
            0, 0, 0, 0, 0, 0, 0.9, 5.1, 0, 0,
            0, 1.4, 10.0, 1.2, 0, 0, 0, 0, 0, 0,
            0, 0, 0, 0, 0, 0, 0, 0, 0]
rain_p27 = [0, 0, 0, 0, 0, 0, 0, 0, 0, 0,
            0, 0, 0, 0, 0, 0, 0, 0, 0, 0,
            0, 0, 0, 0, 0, 0, 0, 0, 0, 4.0,
            0.8, 0, 0, 0, 0, 2.0, 0, 0, 0, 0,
            0, 0, 0, 2.7, 0, 0, 0, 0, 0, 0,
            0, 0, 0, 0, 3.0, 7.4, 1.1, 0, 0]
rain_p28 = [0, 0, 0, 0, 0, 0, 0, 0, 0, 0,
            0, 0, 0, 0, 0, 0, 0, 0, 0, 0,
            0, 0, 0, 0, 0, 0, 0, 0, 0, 0,
            0, 0, 0, 4.3, 0.5, 0, 0, 0, 0, 0,
            0, 0, 0, 0, 0, 0, 0, 0, 0, 0,
            4.2, 1.0, 0, 0, 0, 0, 0, 0, 0]
rain_p29 = [0, 0, 0, 0, 0, 0, 0, 0, 0, 0,
            0, 0, 0, 0, 0, 0, 0, 0, 0, 0,
            0, 0, 0, 0, 0, 0, 0, 0, 0, 0,
            0, 0, 0, 0, 0, 0, 0, 0, 0, 0,
            0, 0, 0, 0, 0, 0, 0, 3.9, 0.8, 0,
            0, 0, 0, 0, 0, 0, 0, 2.4, 8.6]
rain_p30 = [0, 0, 0, 0, 0, 0, 0, 0, 0, 0,
            0, 0, 0, 0, 0, 0, 0, 0, 0, 0,
            0, 0, 0, 0, 0, 0, 0, 0, 0, 0,
            0, 0, 1.3, 0, 0, 0, 0, 0, 0, 0,
            0, 0, 0, 0, 0, 0, 0, 0, 0, 0,
            0, 0, 0, 0, 0, 0, 2.1, 6.6, 0.7]
rain_control = [0, 0, 0, 0, 0, 0, 0, 0, 0, 0,
                0, 0, 0, 0, 0, 0, 0, 0, 0, 0,
                0, 0, 0, 0, 0, 0, 0, 0, 0, 0,
                0, 0, 0.2, 0.3, 0.3, 0.2, 0, 0, 0, 0,
                0, 0, 0, 0, 0, 0.3, 0.4, 0.3, 0, 0,
                0, 0, 0, 0, 0, 0, 0, 0, 0]
rain_mean = [0, 0, 0, 0, 0, 0.05, 0, 0, 0, 0,
             0, 0, 0, 0, 0, 0, 0, 0, 0, 0,
             0, 0, 0.1, 0.15, 0.3, 0.25, 0.1, 0.15, 0.35, 0.55,
             0.25, 0.15, 0.35, 0.3, 0.25, 0.2, 0.45, 0.5, 0.6, 0.3,
             0.3, 0.35, 0.6, 0.4, 0.5, 0.35, 0.55, 0.75, 0.35, 0.4,
             0.35, 0.55, 1.05, 0.75, 0.85, 0.85, 0.7, 0.6, 0.95]
rain_oper = [0, 0, 0, 0, 0, 0, 0, 0, 0, 0,
             0, 0, 0, 0, 0, 0, 0, 0, 0, 0,
             0, 0, 0, 0, 0, 0, 0, 0, 0, 0.2,
             0, 0, 0, 0, 0, 0, 0.2, 0.7, 1.7, 0.3,
             0, 0, 0, 0, 0, 0, 0, 0, 0, 0,
             0, 0, 0, 0, 0, 0, 0, 0, 0]

member_temps = [temp_p01, temp_p02, temp_p03, temp_p04, temp_p05, temp_p06, temp_p07, temp_p08,
                temp_p09, temp_p10, temp_p11, temp_p12, temp_p13, temp_p14, temp_p15, temp_p16,
                temp_p17, temp_p18, temp_p19, temp_p20, temp_p21, temp_p22, temp_p23, temp_p24,
                temp_p25, temp_p26, temp_p27, temp_p28, temp_p29, temp_p30]
member_rain = [rain_p01, rain_p02, rain_p03, rain_p04, rain_p05, rain_p06, rain_p07, rain_p08,
               rain_p09, rain_p10, rain_p11, rain_p12, rain_p13, rain_p14, rain_p15, rain_p16,
               rain_p17, rain_p18, rain_p19, rain_p20, rain_p21, rain_p22, rain_p23, rain_p24,
               rain_p25, rain_p26, rain_p27, rain_p28, rain_p29, rain_p30]

for k, s in enumerate(member_temps + member_rain):
    assert len(s) == len(times), (k, len(s))
for s in [temp_control, temp_mean, temp_oper, temp_clim, rain_control, rain_mean, rain_oper]:
    assert len(s) == len(times), len(s)

CONTROL_C = "#0000ff"
OPER_C = "#00e000"
MEAN_C = "#ffffff"
CLIM_C = "#f04040"
GRID_C = "#4a4a4a"
FONT = "DejaVu Sans"

# ---------------- figure ----------------
fig = go.Figure()

for name, col, r in zip(member_names, member_colors, member_rain):
    fig.add_trace(go.Scatter(x=times, y=r, yaxis="y2", mode="lines", name=name + " rain",
                             line=dict(color=col, width=1), showlegend=False))
for name, col, t in zip(member_names, member_colors, member_temps):
    fig.add_trace(go.Scatter(x=times, y=t, mode="lines", name=name,
                             line=dict(color=col, width=1), showlegend=False))

fig.add_trace(go.Scatter(x=times, y=rain_control, yaxis="y2", mode="lines",
                         line=dict(color=CONTROL_C, width=3), showlegend=False))
fig.add_trace(go.Scatter(x=times, y=rain_mean, yaxis="y2", mode="lines",
                         line=dict(color=MEAN_C, width=3), showlegend=False))
fig.add_trace(go.Scatter(x=times, y=rain_oper, yaxis="y2", mode="lines",
                         line=dict(color=OPER_C, width=3), showlegend=False))

fig.add_trace(go.Scatter(x=times, y=temp_clim, mode="lines", name="1991-2020 mean",
                         line=dict(color=CLIM_C, width=3), showlegend=False))
fig.add_trace(go.Scatter(x=times, y=temp_control, mode="lines", name="Control",
                         line=dict(color=CONTROL_C, width=3), showlegend=False))
fig.add_trace(go.Scatter(x=times, y=temp_mean, mode="lines", name="Ens. mean",
                         line=dict(color=MEAN_C, width=3), showlegend=False))
fig.add_trace(go.Scatter(x=times, y=temp_oper, mode="lines", name="Oper",
                         line=dict(color=OPER_C, width=3), showlegend=False))

# plot area in pixels: left 163, right 810, top 30, bottom 559
L, R, T, B = 163, 810, 30, 559
def px(xp):
    return (xp - L) / (R - L)
def py(yp):
    return (B - yp) / (B - T)

shapes = []
annotations = []

def legend_item(x_line0, x_line1, x_text, y, text, color, width=1.5):
    shapes.append(dict(type="line", xref="paper", yref="paper",
                       x0=px(x_line0), x1=px(x_line1), y0=py(y), y1=py(y),
                       line=dict(color=color, width=width)))
    annotations.append(dict(xref="paper", yref="paper", x=px(x_text), y=py(y),
                            xanchor="left", yanchor="middle", text=text, showarrow=False,
                            font=dict(family=FONT, size=11, color="white")))

for k in range(15):
    yk = 39.5 + 15 * k
    legend_item(0, 8, 7.5, yk, member_names[2 * k], member_colors[2 * k])
    legend_item(53, 63, 62.5, yk, member_names[2 * k + 1], member_colors[2 * k + 1])
legend_item(0, 8, 7.5, 265, "Control", CONTROL_C, 2)
legend_item(53, 63, 62.5, 265, "Ens. mean", MEAN_C, 2)
shapes.append(dict(type="line", xref="paper", yref="paper", x0=px(53), x1=px(63),
                   y0=py(292), y1=py(292), line=dict(color=CLIM_C, width=2)))
annotations.append(dict(xref="paper", yref="paper", x=px(62.5), y=py(298), xanchor="left",
                        yanchor="middle", text="1991-2020<br>mean", showarrow=False, align="left",
                        font=dict(family=FONT, size=11, color="white")))
legend_item(0, 8, 7.5, 305, "Oper", OPER_C, 2)

# axis titles and footer texts
annotations.append(dict(xref="paper", yref="paper", x=px(132), y=py(294), textangle=-90,
                        xanchor="center", yanchor="middle", text="850 hPa Temp. (°C)",
                        showarrow=False, font=dict(family=FONT, size=11, color="white")))
annotations.append(dict(xref="paper", yref="paper", x=px(840), y=py(290), textangle=-90,
                        xanchor="center", yanchor="middle", text="Neerslag (mm)",
                        showarrow=False, font=dict(family=FONT, size=11, color="white")))
annotations.append(dict(xref="paper", yref="paper", x=px(486), y=py(589),
                        xanchor="center", yanchor="middle", text="Date (UTC)",
                        showarrow=False, font=dict(family=FONT, size=11, color="white")))
annotations.append(dict(xref="paper", yref="paper", x=px(120), y=py(599),
                        xanchor="left", yanchor="middle", text="GFS Ensemble, 52N, 5E",
                        showarrow=False, font=dict(family=FONT, size=16, color="white")))
annotations.append(dict(xref="paper", yref="paper", x=px(794), y=py(599),
                        xanchor="right", yanchor="middle", text="Wetterzentrale.de",
                        showarrow=False, font=dict(family=FONT, size=16, color="white")))

fig.update_layout(
    width=850, height=620,
    paper_bgcolor="black", plot_bgcolor="black",
    margin=dict(l=L, r=850 - R, t=T, b=620 - B),
    showlegend=False,
    font=dict(family=FONT, color="white", size=11),
    title=dict(text="<b>De Bilt&nbsp; (NL)&nbsp; 850 hPa Temp. & Neerslag | Sat, 08Aug2026 12Z</b>",
               x=435 / 850, xanchor="center", y=1 - 12 / 620, yanchor="middle",
               font=dict(family=FONT, size=16, color="white")),
    xaxis=dict(type="date", range=["2026-08-08 00:00", "2026-08-23 06:00"],
               tickmode="array", tickvals=x_tick_dates, ticktext=x_tick_labels,
               showgrid=True, gridcolor=GRID_C, griddash="dash", gridwidth=1,
               minor=dict(dtick=86400000, tick0="2026-08-08", showgrid=True,
                          gridcolor=GRID_C, griddash="dash", gridwidth=1),
               showline=True, linecolor="white", linewidth=1, mirror=True,
               ticks="", zeroline=False, ticklabelstandoff=4,
               tickfont=dict(family=FONT, size=11, color="white")),
    yaxis=dict(range=[-10, 35], dtick=5, tick0=-10, showgrid=True,
               gridcolor=GRID_C, griddash="dash", gridwidth=1,
               showline=True, linecolor="white", linewidth=1, mirror=True,
               zeroline=False, ticks="", ticklabelstandoff=9,
               tickfont=dict(family=FONT, size=11, color="white")),
    yaxis2=dict(range=[0, 40], overlaying="y", side="right", dtick=10, tick0=0,
                showgrid=False, zeroline=False, showline=False,
                ticks="inside", ticklen=5, tickcolor="white",
                minor=dict(dtick=1, ticks="inside", ticklen=3, tickcolor="white"),
                ticklabelstandoff=4,
                tickfont=dict(family=FONT, size=11, color="white")),
    shapes=shapes,
    annotations=annotations,
)

fig.write_html("out.html", config={"displayModeBar": False},
               post_script="document.body.style.margin='0px';document.body.style.overflow='hidden';")
